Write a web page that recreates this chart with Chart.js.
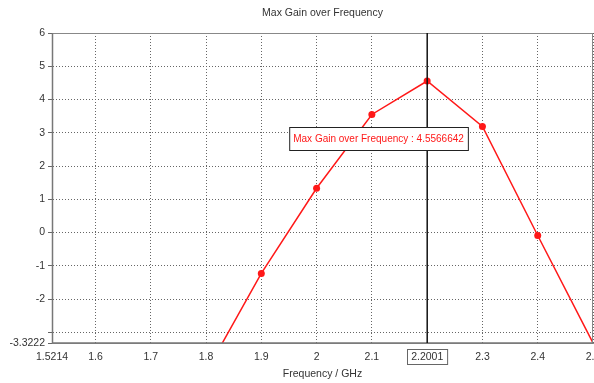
<!DOCTYPE html>
<html>
<head>
<meta charset="utf-8">
<script src="https://cdn.jsdelivr.net/npm/chart.js@4"></script>
<style>
  html, body { margin: 0; padding: 0; background: #fff; }
  #grafico { display: block; }
</style>
</head>
<body>
<canvas id="grafico" width="594" height="383"></canvas>
<script>
// dados
const frequencias = [1.8, 1.9, 2.0, 2.1, 2.2, 2.3, 2.4, 2.5];
const ganho = [-4.2, -1.23, 1.33, 3.55, 4.5566642, 3.19, -0.09, -3.3222];
const raios = [0, 3.5, 3.5, 3.5, 3.5, 3.5, 3.5, 0];

const xTicks = [1.5214, 1.6, 1.7, 1.8, 1.9, 2.0, 2.1, 2.2001, 2.3, 2.4, 2.5];
const yTicks = [-3.3222, -3, -2, -1, 0, 1, 2, 3, 4, 5, 6];
const cursorX = 2.2001;
const titulo = "Max Gain over Frequency";
const cursorTexto = "Max Gain over Frequency : 4.5566642";

const FONTE = "'Liberation Sans', Arial, sans-serif";
const VERMELHO = "rgb(255, 24, 24)";

// título centrado na área do gráfico, moldura, cursor e caixas
const cursorPlugin = {
  id: "cursor",
  afterDatasetsDraw(chart) {
    const { ctx, chartArea: a, scales } = chart;
    const x = scales.x.getPixelForValue(cursorX);
    ctx.save();
    // título
    ctx.font = "10.5px " + FONTE;
    ctx.fillStyle = "#333";
    ctx.textAlign = "center";
    ctx.textBaseline = "middle";
    ctx.fillText(titulo, (a.left + a.right) / 2, 13);
    ctx.textAlign = "left";
    // moldura
    ctx.strokeStyle = "#888";
    ctx.lineWidth = 1;
    ctx.strokeRect(a.left + 0.5, a.top + 0.5, a.right - a.left - 1, a.bottom - a.top);
    ctx.strokeStyle = "#777";
    ctx.lineWidth = 1.5;
    ctx.beginPath();
    ctx.moveTo(a.left + 0.5, a.top);
    ctx.lineTo(a.left + 0.5, a.bottom);
    ctx.lineTo(a.right, a.bottom);
    ctx.stroke();
    // cursor
    ctx.strokeStyle = "#111";
    ctx.lineWidth = 1.5;
    ctx.beginPath();
    ctx.moveTo(x, a.top);
    ctx.lineTo(x, a.bottom);
    ctx.stroke();
    // caixa de texto
    ctx.font = "10px " + FONTE;
    const w = ctx.measureText(cursorTexto).width + 8;
    const bx = x - 138, by = a.top + 94;
    ctx.fillStyle = "#fff";
    ctx.fillRect(bx, by, w, 23);
    ctx.strokeStyle = "#222";
    ctx.lineWidth = 1;
    ctx.strokeRect(bx + 0.5, by + 0.5, w, 23);
    ctx.fillStyle = VERMELHO;
    ctx.fillText(cursorTexto, bx + 4, by + 12);
    // caixa do tick 2.2001
    ctx.font = "10.5px " + FONTE;
    const tw = ctx.measureText("2.2001").width + 8;
    ctx.strokeStyle = "#666";
    ctx.strokeRect(Math.round(x - tw / 2) + 0.5, a.bottom + 6.5, tw, 15);
    ctx.restore();
  }
};

new Chart(document.getElementById("grafico"), {
  type: "line",
  data: {
    datasets: [
      {
        label: titulo,
        data: frequencias.map((f, i) => ({ x: f, y: ganho[i] })),
        borderColor: VERMELHO,
        backgroundColor: VERMELHO,
        borderWidth: 1.5,
        pointRadius: raios,
        pointBorderWidth: 0,
        pointBackgroundColor: VERMELHO,
        tension: 0,
        clip: 0,
      },
    ],
  },
  options: {
    responsive: false,
    animation: false,
    layout: { padding: { left: 0, right: 1, top: 33, bottom: 0 } },
    plugins: {
      legend: { display: false },
      tooltip: { enabled: false },
      title: { display: false },
    },
    scales: {
      x: {
        type: "linear",
        min: 1.5214,
        max: 2.5,
        afterBuildTicks: (s) => { s.ticks = xTicks.map((v) => ({ value: v })); },
        afterFit: (s) => { s.height = 40; s.paddingLeft = 0; s.paddingRight = 0; },
        ticks: {
          autoSkip: false,
          maxRotation: 0,
          padding: 8,
          color: "#333",
          font: { family: FONTE, size: 10.5 },
          callback: (v) => String(v),
        },
        grid: {
          drawTicks: false,
          color: (c) => (c.tick && c.tick.value === cursorX ? "transparent" : "#666"),
          lineWidth: 1,
        },
        border: { display: true, color: "#888", width: 1, dash: [1, 2] },
        title: {
          display: true,
          text: "Frequency / GHz",
          color: "#333",
          font: { family: FONTE, size: 10.5 },
          padding: { top: 0, bottom: 3 },
        },
      },
      y: {
        type: "linear",
        min: -3.3222,
        max: 6,
        afterBuildTicks: (s) => { s.ticks = yTicks.map((v) => ({ value: v })); },
        afterFit: (s) => { s.width = 52; s.paddingTop = 0; s.paddingBottom = 0; },
        ticks: {
          autoSkip: false,
          padding: 3,
          color: "#333",
          font: { family: FONTE, size: 10.5 },
          callback: (v) => (v === -3 ? "" : String(v)),
        },
        grid: {
          drawTicks: true,
          tickLength: 4,
          color: "#666",
          lineWidth: 1,
        },
        border: { display: true, color: "#888", width: 1, dash: [1, 2] },
      },
    },
  },
  plugins: [cursorPlugin],
});
</script>
</body>
</html>
